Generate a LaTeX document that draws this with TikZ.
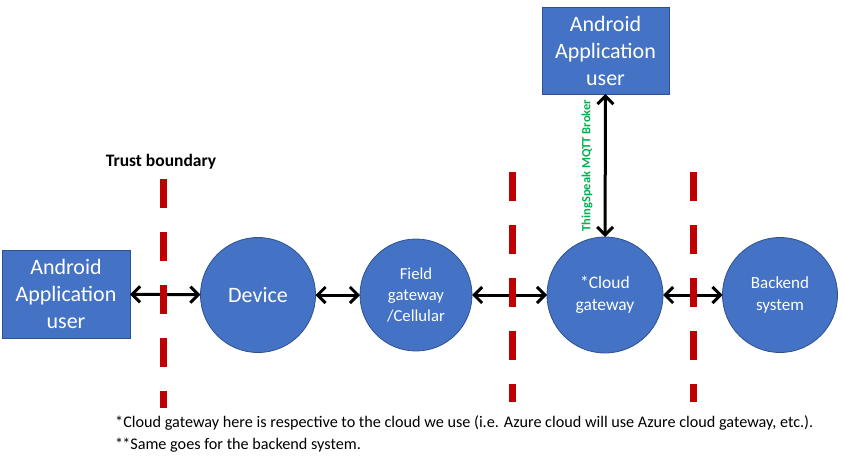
\documentclass[tikz,border=0pt]{standalone}
\usepackage{fontspec}
\setmainfont{Carlito}
\usetikzlibrary{arrows.meta}
\definecolor{nodeblue}{HTML}{4472C4}
\definecolor{edgeblue}{HTML}{2F528F}
\definecolor{trustred}{HTML}{C00000}
\definecolor{brokergreen}{HTML}{00B050}
\begin{document}
\begin{tikzpicture}[x=1pt,y=-1pt,
  userbox/.style={rectangle,fill=nodeblue,draw=edgeblue,line width=.8pt,text=white,
    minimum width=128pt,minimum height=88pt,inner sep=0pt,outer sep=0pt,align=center,
    font=\fontsize{22}{27}\selectfont},
  stage/.style={circle,fill=nodeblue,draw=edgeblue,line width=.8pt,text=white,
    minimum size=115pt,inner sep=0pt,outer sep=0pt,align=center,
    font=\fontsize{17.5}{22}\selectfont},
  link/.style={line width=3pt,{Straight Barb[length=8pt,width=16pt]}-{Straight Barb[length=8pt,width=16pt]}},
  boundary/.style={draw=trustred,line width=7pt,dash pattern=on 29pt off 24pt}]
\useasboundingbox (0,0) rectangle (844,458);

\coordinate (U) at (66,294);
\coordinate (T) at (605.5,50.5);
\coordinate (D) at (258,295);
\coordinate (F) at (416,295);
\coordinate (C) at (605,295);
\coordinate (B) at (780,295);

\node[userbox] (user) at (U) {Android\\Application\\user};
\node[userbox,minimum width=127pt,minimum height=87pt] (app) at (T) {Android\\Application\\user};

\node[stage,font=\fontsize{22}{27}\selectfont] (device) at (D) {Device};
\node[stage,minimum size=112pt,font=\fontsize{16.7}{21}\selectfont] (field) at (F) {Field\\gateway\\/Cellular};
\node[stage,minimum size=116pt] (cloud) at (C) {*Cloud\\gateway};
\node[stage,font=\fontsize{17}{22}\selectfont] (backend) at (B) {Backend\\system};

\draw[link] (user) -- (device);
\draw[link] (device) -- (field);
\draw[link] (field) -- (cloud);
\draw[link] (cloud) -- (backend);
\draw[link] (app) -- node[pos=.5,left=7pt,rotate=90,anchor=south,yshift=1pt,text=brokergreen,
  font=\fontsize{12.5}{14}\selectfont\bfseries] (broker) {ThingSpeak MQTT Broker} (cloud);

\draw[boundary] (163,179) -- (163,408);
\draw[boundary] (512,172) -- (512,402);
\draw[boundary] (693,172) -- (693,402);

\node[font=\fontsize{17.5}{20}\selectfont\bfseries] (trust) at (161,162) {Trust boundary};

\node[anchor=west,inner sep=0pt,font=\fontsize{16.2}{22}\selectfont,align=left] (notes) at (115,434)
  {*Cloud gateway here is respective to the cloud we use (i.e. Azure cloud will use Azure cloud gateway, etc.).\\
   *\kern-1pt*Same goes for the backend system.};
\end{tikzpicture}
\end{document}
